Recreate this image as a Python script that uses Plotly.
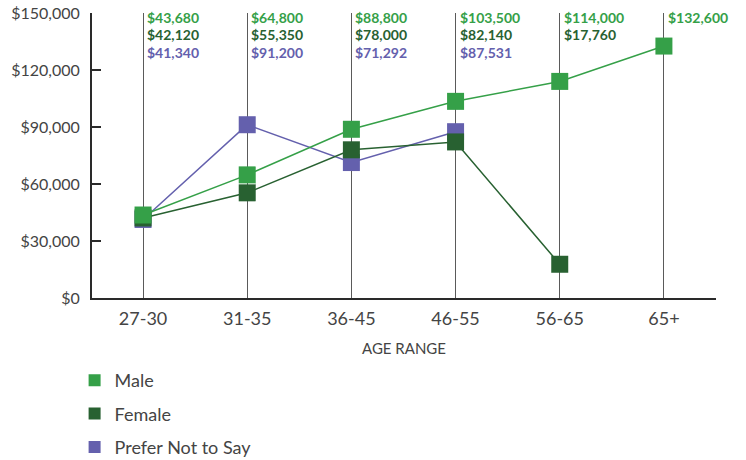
import plotly.graph_objects as go

# Salary by age range, split by gender
age_ranges = ["27-30", "31-35", "36-45", "46-55", "56-65", "65+"]
male = [43680, 64800, 88800, 103500, 114000, 132600]
female = [42120, 55350, 78000, 82140, 17760, None]
prefer_not = [41340, 91200, 71292, 87531, None, None]

y_ticks = [0, 30000, 60000, 90000, 120000, 150000]

C_MALE = "#35a048"
C_FEMALE = "#286131"
C_PREFER = "#6460ad"
FONT = "Lato"
TEXT = "#444444"

series = [
    ("Prefer Not to Say", prefer_not, C_PREFER),
    ("Female", female, C_FEMALE),
    ("Male", male, C_MALE),
]

fig = go.Figure()

# data lines (drawn back to front so Male sits on top)
for name, vals, col in series:
    fig.add_trace(go.Scatter(
        x=age_ranges, y=vals, mode="lines+markers", name=name,
        line=dict(color=col, width=1.5),
        marker=dict(symbol="square", size=17, color=col),
        showlegend=False, connectgaps=False,
    ))

# legend entries (square swatches only)
for name, vals, col in reversed(series):
    fig.add_trace(go.Scatter(
        x=[None], y=[None], mode="markers", name=name,
        marker=dict(symbol="square", size=15, color=col),
        legendgroup=name,
    ))

# value labels stacked at the top of each age column
rows = [(male, C_MALE), (female, C_FEMALE), (prefer_not, C_PREFER)]
for i, cat in enumerate(age_ranges):
    for r, (vals, col) in enumerate(rows):
        v = vals[i]
        if v is None:
            continue
        fig.add_annotation(
            x=i, y=1, xref="x", yref="paper",
            text=f"<b>${v:,}</b>", showarrow=False,
            xanchor="left", yanchor="middle",
            xshift=2, yshift=-4 - 17.5 * r,
            font=dict(family=FONT, size=14, color=col),
        )

fig.update_layout(
    width=746, height=460,
    margin=dict(l=92, r=30, t=13, b=162, autoexpand=False),
    paper_bgcolor="white", plot_bgcolor="white",
    font=dict(family=FONT, color=TEXT),
    legend=dict(
        xref="container", yref="container",
        x=0.1, y=0.213, xanchor="left", yanchor="top",
        font=dict(family=FONT, size=18, color=TEXT),
        tracegroupgap=7, itemsizing="constant",
        bgcolor="rgba(0,0,0,0)",
    ),
    xaxis=dict(
        type="category", categoryorder="array", categoryarray=age_ranges,
        range=[-0.49, 5.5], automargin=False,
        showgrid=True, gridcolor="#5a5a5a", gridwidth=1.3,
        showline=True, linecolor="#2a2a2a", linewidth=2,
        ticks="outside", ticklen=3, tickcolor="rgba(0,0,0,0)",
        tickfont=dict(family=FONT, size=18, color=TEXT),
        title=dict(text="AGE RANGE", font=dict(family=FONT, size=15, color=TEXT), standoff=16),
        zeroline=False, fixedrange=True,
    ),
    yaxis=dict(
        range=[0, 150000], automargin=False,
        tickvals=y_ticks, ticktext=[f"${v:,}" for v in y_ticks],
        showgrid=False, zeroline=False,
        showline=True, linecolor="#2a2a2a", linewidth=2,
        ticks="inside", ticklen=9, tickwidth=2, tickcolor="#2a2a2a",
        ticklabelstandoff=7,
        tickfont=dict(family=FONT, size=16, color=TEXT),
        fixedrange=True,
    ),
)

fig.write_html("out.html")
